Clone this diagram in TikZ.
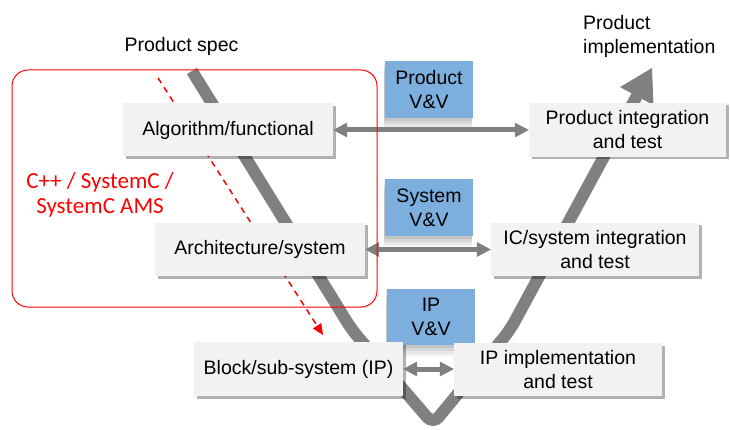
\documentclass[tikz,border=0pt]{standalone}
\usepackage{fontspec}
\setmainfont{Liberation Sans}
\newfontfamily\calib{Carlito}
\usetikzlibrary{arrows.meta,shadows}
\definecolor{boxgray}{RGB}{242,242,242}
\definecolor{vvblue}{RGB}{124,175,221}
\definecolor{linegray}{RGB}{128,128,128}
\begin{document}
\begin{tikzpicture}[x=1pt,y=-1pt,
  txt/.style={font=\fontsize{19.5}{24}\selectfont, text=black},
  graybox/.style={txt, fill=boxgray, align=center, inner sep=0pt, minimum height=53pt,
    drop shadow={shadow xshift=2.5pt,shadow yshift=-2.5pt,opacity=0.3,fill=black}},
  bluebox/.style={txt, fill=vvblue, align=center, inner sep=0pt, minimum width=88pt, minimum height=57pt,
    drop shadow={shadow xshift=-1pt,shadow yshift=-3pt,opacity=0.08,fill=black},
    drop shadow={shadow xshift=-1pt,shadow yshift=-6pt,opacity=0.07,fill=black},
    drop shadow={shadow xshift=-1pt,shadow yshift=-9pt,opacity=0.06,fill=black},
    drop shadow={shadow xshift=-1pt,shadow yshift=-12pt,opacity=0.04,fill=black}},
  vline/.style={draw=linegray, line width=12pt, rounded corners=9pt,
    -{Triangle[length=32pt,width=38pt,line width=0pt]}},
  vvarrow/.style={draw=linegray, line width=5pt,
    {Triangle[length=14pt,width=15pt,line width=0pt]}-{Triangle[length=14pt,width=15pt,line width=0pt]}},
  reddash/.style={draw=red, line width=1.5pt, dash pattern=on 6pt off 5pt,
    -{Triangle[length=11pt,width=10pt,line width=0pt]}},
  redframe/.style={draw=red, line width=1pt, rounded corners=16pt, inner sep=0pt},
]
\useasboundingbox (0,0) rectangle (730,430);

% red dashed refinement arrow (behind the boxes)
\coordinate (ds) at (158,78);
\coordinate (de) at (323,335);
\draw[reddash] (ds) -- (de);

% V line
\coordinate (vs) at (192,71);
\coordinate (ve) at (652,68);
\draw[vline] (vs) -- (352,330) -- (433,424) -- (510,330) -- (ve);

% V&V boxes
\node[bluebox] (pvv) at (429,89.5) {Product\\V\&V};
\node[bluebox] (svv) at (429,207.5) {System\\V\&V};
\node[bluebox, minimum height=56pt] (ipvv) at (431,317) {IP\\V\&V};

% design / test boxes
\node[graybox, minimum width=210pt] (alg) at (228,130) {Algorithm/functional};
\node[graybox, minimum width=210pt] (arch) at (260,249.5) {Architecture/system};
\node[graybox, minimum width=209pt, minimum height=54pt] (blk) at (298.5,369) {Block/sub-system (IP)};
\node[graybox, minimum width=197pt, minimum height=54pt] (pint) at (627.5,130) {Product integration\\and test};
\node[graybox, minimum width=208pt] (icsys) at (595,249.5) {IC/system integration\\and test};
\node[graybox, minimum width=208pt] (ipimpl) at (558,369.5) {IP implementation\\and test};

% V&V arrows
\draw[vvarrow] (alg.east) -- (pint.west);
\draw[vvarrow] (arch.east) -- (icsys.west);
\draw[vvarrow] (blk.east) -- (blk.east -| ipimpl.west);

% red frame and its label
\node[redframe, minimum width=365pt, minimum height=237pt] (frame) at (194.5,188.5) {};
\node[font=\calib\fontsize{23}{25}\selectfont, text=red, align=center] (lang) at (100,195) {C++ / SystemC /\\SystemC AMS};

% top labels
\node[txt, anchor=base] (spec) at (181.5,52) {Product spec};
\node[txt, anchor=north west, align=left, inner sep=0pt] (impl) at (583,15) {Product\\implementation};
\end{tikzpicture}
\end{document}
